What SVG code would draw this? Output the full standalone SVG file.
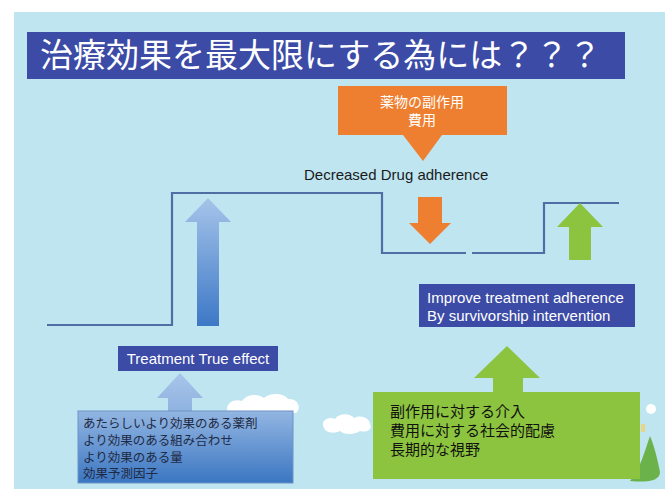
<svg xmlns="http://www.w3.org/2000/svg" width="665" height="489" viewBox="0 0 665 489">
  <defs>
    <linearGradient id="blueArrow" x1="0" y1="0" x2="0" y2="1">
      <stop offset="0" stop-color="#a6c4ea"/>
      <stop offset="1" stop-color="#3d78c6"/>
    </linearGradient>
    <linearGradient id="blueBox" x1="0" y1="0" x2="0" y2="1">
      <stop offset="0" stop-color="#93b6e2"/>
      <stop offset="1" stop-color="#3b76c2"/>
    </linearGradient>
    <linearGradient id="blueSmall" x1="0" y1="0" x2="0" y2="1">
      <stop offset="0" stop-color="#a9c6ea"/>
      <stop offset="1" stop-color="#8fb2e0"/>
    </linearGradient>
  </defs>
  <style>
    .jp { font-family: "Liberation Sans", "Noto Sans CJK JP", sans-serif; }
    .en { font-family: "Liberation Sans", Arial, sans-serif; }
    .navy { fill: #3b4ba6; }
    .orange { fill: #ee7f30; }
    .green { fill: #8cc43f; }
    .cloud { fill: #ffffff; }
    .step { fill: none; stroke: #4d6fa3; stroke-width: 2.2; }
    .white { fill: #ffffff; }
  </style>

  <!-- slide background -->
  <rect x="0" y="0" width="665" height="489" fill="#ffffff"/>
  <rect x="14" y="12" width="651" height="477" fill="#bfe5f1"/>

  <!-- scenery: clouds and hill -->
  <g id="scenery">
    <path class="cloud" d="M228,412 C224,404 234,398 242,401 C246,394 258,393 264,398 C270,392 284,393 288,399 C298,398 302,408 296,413 Z"/>
    <path class="cloud" d="M324,428 C320,421 328,416 335,419 C339,413 350,413 354,418 C360,414 370,418 370,424 C373,430 366,433 360,431 C354,435 344,435 340,431 C334,434 326,433 324,428 Z"/>
    <circle class="cloud" cx="651" cy="409" r="5"/>
    <path d="M630,481 C640,470 645,450 650,436 C655,448 658,462 660,472 C660,480 650,483 630,481 Z" fill="#6bb24a"/>
    <rect x="641" y="424" width="4" height="8" fill="#e6d68a"/>
  </g>

  <!-- title -->
  <g id="title">
    <rect x="27" y="32" width="598" height="47" class="navy"/>
    <text x="40" y="67" class="jp white" font-size="33">治療効果を最大限にする為には？？？</text>
  </g>

  <!-- connectors: level line and arrows -->
  <g id="connectors">
    <polyline class="step" points="47,325 172,325 172,193 382,193 382,253 466,253"/>
    <polyline class="step" points="472,253 544,253 544,203 619,203"/>
    <!-- true effect arrow -->
    <polygon fill="url(#blueArrow)" points="208,198 231,222 219,222 219,326 197,326 197,222 185,222"/>
    <!-- decreased adherence arrow -->
    <polygon class="orange" points="418,197 442,197 442,223 451,223 430,244 409,223 418,223"/>
    <!-- improve adherence arrow -->
    <polygon class="green" points="580,203 603,227 591,227 591,260 569,260 569,227 557,227"/>
  </g>

  <!-- side effect / cost box -->
  <g id="node-cost">
    <polygon class="orange" points="338,86 507,86 507,135 442,135 423,161 403,135 338,135"/>
    <text x="422" y="107" class="jp white" font-size="14" text-anchor="middle">薬物の副作用</text>
    <text x="422" y="125" class="jp white" font-size="14" text-anchor="middle">費用</text>
  </g>

  <g id="label-decreased">
    <text x="304" y="180" class="en" font-size="15" fill="#1a1a1a">Decreased Drug adherence</text>
  </g>

  <!-- treatment true effect -->
  <g id="node-true-effect">
    <rect x="118" y="346" width="160" height="25" class="navy"/>
    <text x="198" y="364" class="en white" font-size="15" text-anchor="middle">Treatment True effect</text>
  </g>

  <!-- drug factors box with arrow -->
  <g id="node-drug-factors">
    <polygon fill="url(#blueSmall)" points="180,373 203,398 192,398 192,411 168,411 168,398 157,398"/>
    <rect x="78" y="411" width="215" height="72" fill="url(#blueBox)" stroke="#6f93c8" stroke-width="1"/>
    <g class="jp" font-size="12.5" fill="#1f2a44">
      <text x="83" y="428">あたらしいより効果のある薬剤</text>
      <text x="83" y="445">より効果のある組み合わせ</text>
      <text x="83" y="462">より効果のある量</text>
      <text x="83" y="478">効果予測因子</text>
    </g>
  </g>

  <!-- improve adherence box -->
  <g id="node-improve">
    <rect x="419" y="284" width="216" height="43" class="navy"/>
    <text x="427" y="303" class="en white" font-size="15">Improve treatment adherence</text>
    <text x="427" y="321" class="en white" font-size="15">By survivorship intervention</text>
  </g>

  <!-- intervention box with arrow -->
  <g id="node-intervention">
    <polygon class="green" points="507,346 540,378 523,378 523,393 493,393 493,378 474,378"/>
    <rect x="373" y="392" width="267" height="87" class="green"/>
    <g class="jp" font-size="15" fill="#111111">
      <text x="390" y="417">副作用に対する介入</text>
      <text x="390" y="436">費用に対する社会的配慮</text>
      <text x="390" y="455">長期的な視野</text>
    </g>
  </g>
</svg>
